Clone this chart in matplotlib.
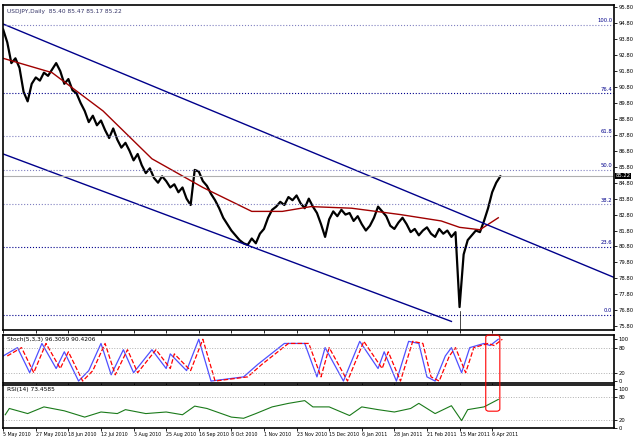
import matplotlib.pyplot as plt
from matplotlib.patches import FancyBboxPatch
import numpy as np

# USDJPY daily closes, every 2 bars
close = [94.4, 93.6, 92.3, 92.6, 92.0, 90.5,
         89.9, 91.0, 91.4, 91.2, 91.7, 91.5, 91.9,
         92.3, 91.8, 91.0, 91.3, 90.6,
         90.4, 89.8, 89.3, 88.6, 89.0, 88.4, 88.7,
         88.1, 87.6, 88.2, 87.5, 87.0, 87.3, 86.8, 86.2, 86.6, 85.9, 85.4, 85.7,
         85.1, 84.8, 85.2, 84.9, 84.5, 84.7, 84.2, 84.5, 83.8, 83.4,
         85.6, 85.5, 84.9, 84.6,
         84.1, 83.7, 83.2, 82.6, 82.2, 81.8, 81.5, 81.2, 81.0, 80.9, 81.3,
         81.0, 81.6, 81.9, 82.6, 83.1, 83.3, 83.6, 83.4, 83.9, 83.7, 84.0, 83.5,
         83.2, 83.8, 83.3, 82.9, 82.2, 81.4, 82.5, 83.0, 82.7, 83.1, 82.8, 82.9,
         82.4, 82.7, 82.2, 81.8, 82.1, 82.6, 83.3, 83.0, 82.7, 82.1, 81.9, 82.3,
         82.6, 82.2, 81.7, 81.9, 81.5, 81.8, 82.0, 81.6, 81.4, 81.9, 81.6, 81.8, 81.4, 81.7,
         77.0, 80.3, 81.2, 81.5, 81.8, 81.7, 82.4, 83.2, 84.2, 84.8, 85.2]
close_idx = list(range(0, 2 * len(close), 2))

ma_idx = [0, 24, 49, 73, 98, 122, 137, 151, 171, 195, 215, 224, 234, 243]
ma_val = [92.6, 91.7, 89.3, 86.3, 84.5, 83.0, 83.0, 83.3, 83.2, 82.8, 82.4, 82.0, 81.85, 82.6]

upper_chan = ([0, 300], [94.75, 78.85])
lower_chan = ([0, 220], [86.6, 76.1])

fib_lvls = [0.0, 23.6, 38.2, 50.0, 61.8, 76.4, 100.0]
fib_lo, fib_hi = 76.5, 94.7

stoch_idx = [0, 7, 13, 19, 26, 30, 37, 42, 48, 53, 59, 64, 73, 80, 82, 90, 96, 102, 118, 125,
             138, 148, 154, 158, 167, 175, 184, 187, 193, 199, 204, 208, 212, 217, 220, 225,
             229, 236, 239, 243]
stoch_k = [60, 80, 20, 90, 30, 70, 0, 25, 90, 15, 75, 20, 75, 30, 65, 25, 100, 0, 10, 40,
           90, 90, 10, 80, 0, 95, 30, 70, 0, 95, 90, 10, 0, 60, 80, 20,
           80, 90, 85, 100]

rsi_idx = [1, 3, 12, 20, 30, 40, 48, 56, 60, 70, 80, 88, 94, 100, 112, 118, 124, 132, 140, 148,
           152, 160, 170, 176, 184, 192, 200, 204, 212, 220, 225, 228, 236, 243]
rsi_val = [34, 50, 37, 54, 44, 28, 41, 37, 47, 37, 41, 34, 56, 50, 28, 25, 37, 54, 63, 70,
           54, 54, 32, 54, 47, 41, 50, 63, 37, 57, 19, 47, 54, 73]

date_labels = ['5 May 2010', '27 May 2010', '18 Jun 2010', '12 Jul 2010', '3 Aug 2010',
               '25 Aug 2010', '16 Sep 2010', '8 Oct 2010', '1 Nov 2010', '23 Nov 2010',
               '15 Dec 2010', '6 Jan 2011', '28 Jan 2011', '21 Feb 2011', '15 Mar 2011',
               '6 Apr 2011']
date_idx = list(range(0, 16 * len(date_labels), 16))

last_price = 85.22
navy = '#00008b'

fig = plt.figure(figsize=(6.4, 4.45), dpi=100)
ax = fig.add_axes([0.005, 0.258, 0.955, 0.731])
ax2 = fig.add_axes([0.005, 0.139, 0.955, 0.108], sharex=ax)
ax3 = fig.add_axes([0.005, 0.038, 0.955, 0.097], sharex=ax)

for a in (ax, ax2, ax3):
    a.tick_params(labelsize=3.8, length=2, width=0.6, pad=1)
    a.yaxis.tick_right()
    for s in a.spines.values():
        s.set_linewidth(1.2)

# main panel
ax.plot(close_idx, close, color='black', lw=1.6)
ax.plot(ma_idx, ma_val, color='#a00000', lw=1.0)
ax.plot(*upper_chan, color=navy, lw=1.0)
ax.plot(*lower_chan, color=navy, lw=1.0)
for f in fib_lvls:
    v = fib_lo + (fib_hi - fib_lo) * f / 100
    ax.axhline(v, color=navy if f in (0.0, 23.6, 76.4) else '#8080c0', ls=':', lw=0.8)
    ax.text(299, v + 0.1, f'{f:.1f}', color=navy, fontsize=3.8, ha='right', va='bottom')
ax.axhline(last_price, color='#b0b0b0', lw=0.8)
ax.axvline(224, ymax=0.06, color='black', lw=0.5)
ax.set_xlim(0, 300)
ax.set_ylim(75.55, 95.95)
ax.set_yticks(np.arange(75.8, 95.81, 1.0))
ax.set_yticklabels([f'{v:.2f}' for v in np.arange(75.8, 95.81, 1.0)])
ax.text(300.5, last_price, f'{last_price:.2f}', fontsize=3.8, color='white', va='center',
        ha='left', bbox=dict(facecolor='black', pad=0.5, lw=0), clip_on=False)
ax.text(2, 95.7, 'USDJPY,Daily  85.40 85.47 85.17 85.22', fontsize=4.2, color='#333366',
        va='top')
plt.setp(ax.get_xticklabels(), visible=False)

# stochastic
ax2.plot(stoch_idx, stoch_k, color='#5050ff', lw=0.9)
ax2.plot([i + 2 for i in stoch_idx], stoch_k, color='red', lw=0.9, ls='--')
for lv in (20, 80):
    ax2.axhline(lv, color='#b0b0b0', ls=':', lw=0.7)
ax2.set_ylim(-5, 110)
ax2.set_yticks([0, 20, 80, 100])
ax2.text(2, 105, 'Stoch(5,3,3) 96.3059 90.4206', fontsize=4.2, va='top')
plt.setp(ax2.get_xticklabels(), visible=False)

# rsi
ax3.plot(rsi_idx, rsi_val, color='#1a7a1a', lw=0.8)
for lv in (20, 80):
    ax3.axhline(lv, color='#b0b0b0', ls=':', lw=0.7)
ax3.set_ylim(0, 110)
ax3.set_yticks([0, 20, 80, 100])
ax3.text(2, 104, 'RSI(14) 73.4585', fontsize=4.2, va='top')
ax3.set_xticks(date_idx)
ax3.set_xticklabels(date_labels, ha='left', fontsize=3.4)

# red highlight box spanning both indicators
box = FancyBboxPatch((0.759, 0.076), 0.022, 0.171, boxstyle='round,pad=0,rounding_size=0.005',
                     transform=fig.transFigure, fill=False, ec='red', lw=0.8)
fig.patches.append(box)

fig.savefig('out.png', dpi=100)
